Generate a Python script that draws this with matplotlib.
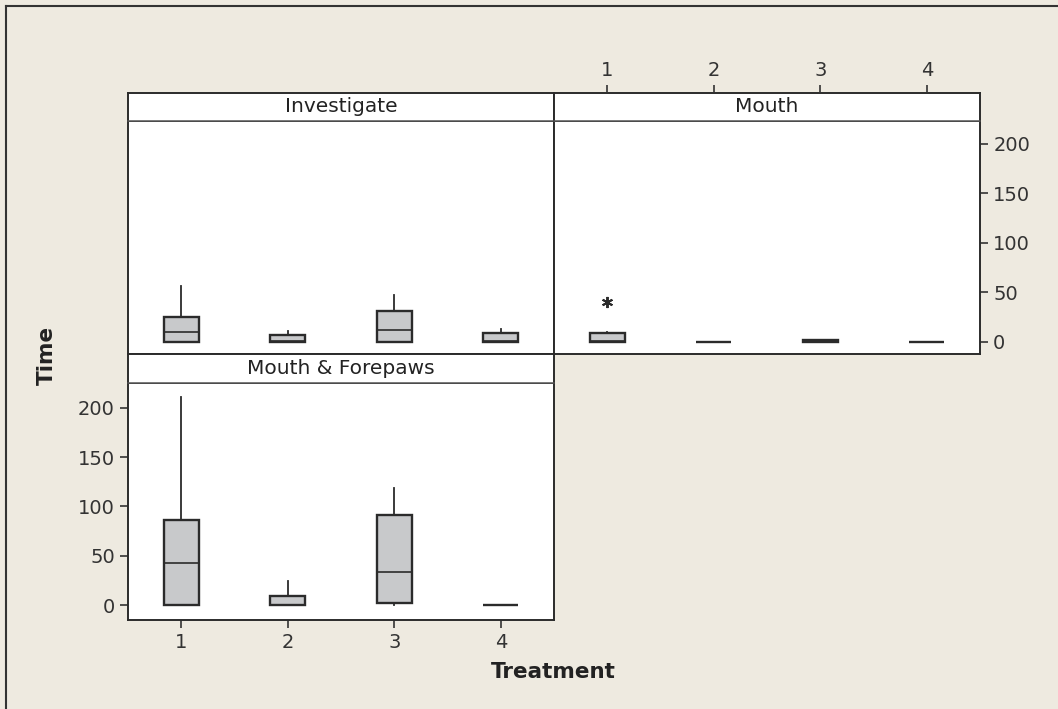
import matplotlib.pyplot as plt
from matplotlib.lines import Line2D

# Box-plot summaries per panel: treatments 1..4
treatments = [1, 2, 3, 4]

inv_whislo = [0, 0, 0, 0]
inv_q1 = [0, 0, 0, 0]
inv_med = [10, 0.5, 12, 0.5]
inv_q3 = [25, 6.5, 30.5, 8.5]
inv_whishi = [56.5, 11, 47, 13]

mouth_whislo = [0, 0, 0, 0]
mouth_q1 = [0, 0, 0, 0]
mouth_med = [0.5, 0, 0.5, 0]
mouth_q3 = [8.8, 0, 1.5, 0]
mouth_whishi = [9.8, 0, 1.5, 0]
mouth_fliers = [[40], [], [], []]

mf_whislo = [0, 0, 0, 0]
mf_q1 = [0, 0, 2, 0]
mf_med = [43, 0.5, 34, 0]
mf_q3 = [86, 9.5, 91.5, 0]
mf_whishi = [210.5, 24, 119, 0]

yticks = [0, 50, 100, 150, 200]

BG = '#EEEAE0'
EDGE = '#2b2b2b'
BOX = '#C8C9CB'
TICK_FS = 14
STRIP_FS = 14.5
LABEL_FS = 15.5

plt.rcParams['font.family'] = ['DejaVu Sans']
plt.rcParams['text.color'] = '#222222'
plt.rcParams['xtick.color'] = '#333333'
plt.rcParams['ytick.color'] = '#333333'

W, H = 1058, 709
fig = plt.figure(figsize=(W / 100, H / 100), dpi=100, facecolor=BG)


def px_axes(x0, y0, x1, y1):
    # pixel box (top-left origin) -> figure axes
    return fig.add_axes([x0 / W, 1 - y1 / H, (x1 - x0) / W, (y1 - y0) / H])


def make_stats(whislo, q1, med, q3, whishi, fliers=None):
    stats = []
    for i in range(len(med)):
        stats.append(dict(whislo=whislo[i], q1=q1[i], med=med[i], q3=q3[i],
                          whishi=whishi[i],
                          fliers=fliers[i] if fliers else []))
    return stats


def draw_panel(ax, stats, ylim):
    ax.set_facecolor('white')
    ax.bxp(stats, positions=treatments, widths=0.33, patch_artist=True,
           showcaps=False,
           boxprops=dict(facecolor=BOX, edgecolor=EDGE, linewidth=1.7),
           medianprops=dict(color=EDGE, linewidth=1.2),
           whiskerprops=dict(color=EDGE, linewidth=1.3),
           flierprops=dict(marker=(6, 2, 0), markersize=8,
                           markeredgecolor=EDGE, markeredgewidth=1.4))
    ax.set_xlim(0.5, 4.5)
    ax.set_ylim(*ylim)
    for s in ax.spines.values():
        s.set_color(EDGE)
        s.set_linewidth(1.4)
    ax.tick_params(length=6, width=1.2, labelsize=TICK_FS, direction='out')


def strip(x0, y0, x1, y1, title):
    sa = px_axes(x0, y0, x1, y1)
    sa.set_facecolor('white')
    sa.set_xticks([])
    sa.set_yticks([])
    for s in sa.spines.values():
        s.set_color(EDGE)
        s.set_linewidth(1.4)
    sa.spines['bottom'].set_color('#555555')
    sa.spines['bottom'].set_linewidth(1.1)
    sa.text(0.5, 0.5, title, ha='center', va='center', fontsize=STRIP_FS,
            transform=sa.transAxes)


# Investigate (top left) - no tick labels
ax_inv = px_axes(128, 121, 554, 354)
draw_panel(ax_inv, make_stats(inv_whislo, inv_q1, inv_med, inv_q3, inv_whishi),
           (-12.5, 223))
ax_inv.set_xticks([])
ax_inv.set_yticks([])
strip(128, 93, 554, 121, 'Investigate')

# Mouth (top right) - ticks on top and right
ax_m = px_axes(554, 121, 980, 354)
draw_panel(ax_m, make_stats(mouth_whislo, mouth_q1, mouth_med, mouth_q3,
                            mouth_whishi, mouth_fliers), (-12.5, 223))
ax_m.set_yticks(yticks)
ax_m.yaxis.tick_right()
ax_m.set_xticks([])
strip(554, 93, 980, 121, 'Mouth')

# top tick labels for Mouth column, sitting above the strip
ax_top = px_axes(554, 93, 980, 121)
ax_top.patch.set_visible(False)
for s in ax_top.spines.values():
    s.set_visible(False)
ax_top.set_xlim(0.5, 4.5)
ax_top.set_yticks([])
ax_top.set_xticks(treatments)
ax_top.xaxis.tick_top()
ax_top.tick_params(length=6, width=1.2, labelsize=TICK_FS, direction='out',
                   color='#333333')

# Mouth & Forepaws (bottom left)
ax_mf = px_axes(128, 383, 554, 620)
draw_panel(ax_mf, make_stats(mf_whislo, mf_q1, mf_med, mf_q3, mf_whishi),
           (-15, 225))
ax_mf.set_yticks(yticks)
ax_mf.set_xticks(treatments)
strip(128, 354, 554, 383, 'Mouth & Forepaws')

fig.text(47 / W, 1 - 355 / H, 'Time', rotation=90, ha='center', va='center',
         fontsize=LABEL_FS, fontweight='bold')
fig.text(553 / W, 1 - 672 / H, 'Treatment', ha='center', va='center',
         fontsize=LABEL_FS, fontweight='bold')

# outer frame (left and top edges)
fig.add_artist(Line2D([6 / W, 6 / W], [0, 1 - 6 / H], color='#333333',
                      linewidth=1.5, transform=fig.transFigure))
fig.add_artist(Line2D([6 / W, 1], [1 - 6 / H, 1 - 6 / H], color='#333333',
                      linewidth=1.5, transform=fig.transFigure))

fig.savefig('out.png', dpi=100, facecolor=BG)
